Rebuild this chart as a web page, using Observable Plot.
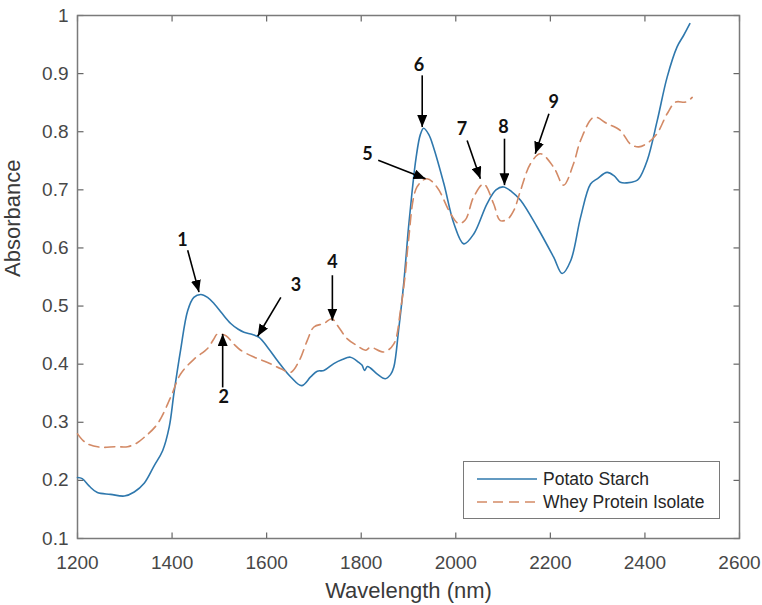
<!DOCTYPE html>
<html><head><meta charset="utf-8">
<script src="https://cdn.jsdelivr.net/npm/d3@7"></script>
<script src="https://cdn.jsdelivr.net/npm/@observablehq/plot@0.6"></script>
<style>
body{margin:0;background:#fff;}
#wrap{position:relative;width:762px;height:605px;}
.legend{position:absolute;left:463px;top:461px;width:257px;height:58px;box-sizing:border-box;border:1.5px solid #7a7a7a;background:#fff;font-family:"Liberation Sans",Arial,sans-serif;font-size:17.5px;color:#262626;}
.legend .row{position:absolute;left:0;height:20px;width:100%;}
.legend svg{position:absolute;left:12px;top:0;}
.legend span{position:absolute;left:79px;top:0;line-height:20px;white-space:nowrap;}
</style></head>
<body><div id="wrap"></div>
<script>
// ---- data ----
const xTicks = [1200, 1400, 1600, 1800, 2000, 2200, 2400, 2600];
const yTicks = [0.1, 0.2, 0.3, 0.4, 0.5, 0.6, 0.7, 0.8, 0.9, 1];
const yTickLabels = ["0.1","0.2","0.3","0.4","0.5","0.6","0.7","0.8","0.9","1"];
const xLabel = "Wavelength (nm)";
const yLabel = "Absorbance";
const seriesNames = ["Potato Starch", "Whey Protein Isolate"];

const potatoWavelength = [1200,1210,1225,1242,1270,1299,1320,1341,1362,1380,1394,1404,1418,1433,1446,1461,1475,1489,1506,1524,1540,1552,1570,1584,1603,1623,1651,1674,1693,1707,1721,1742,1760,1777,1795,1802,1807,1813,1820,1834,1851,1862,1869,1879,1890,1900,1908,1916,1925,1932,1943,1953,1975,1996,2017,2038,2066,2085,2101,2118,2137,2172,2207,2225,2243,2264,2285,2299,2320,2335,2348,2362,2380,2387,2405,2426,2447,2468,2482,2495];
const potatoAbsorbance = [0.205,0.203,0.19,0.179,0.176,0.173,0.18,0.195,0.225,0.251,0.292,0.35,0.424,0.492,0.515,0.52,0.515,0.504,0.487,0.47,0.46,0.455,0.451,0.446,0.428,0.406,0.378,0.363,0.378,0.388,0.389,0.401,0.408,0.412,0.403,0.398,0.389,0.396,0.393,0.383,0.375,0.382,0.395,0.458,0.54,0.635,0.7,0.755,0.795,0.806,0.795,0.773,0.71,0.642,0.607,0.624,0.676,0.7,0.705,0.697,0.682,0.636,0.584,0.556,0.578,0.653,0.71,0.719,0.73,0.724,0.713,0.712,0.715,0.719,0.751,0.819,0.894,0.946,0.966,0.986];

const wheyWavelength = [1200,1210,1221,1249,1280,1306,1325,1341,1369,1397,1418,1447,1475,1488,1496,1514,1530,1545,1574,1602,1630,1651,1669,1686,1700,1721,1738,1752,1770,1791,1809,1820,1848,1869,1883,1894,1900,1918,1939,1960,1989,2006,2020,2038,2059,2080,2094,2110,2123,2137,2158,2179,2207,2228,2249,2264,2292,2320,2348,2369,2387,2408,2426,2447,2465,2486,2500];
const wheyAbsorbance = [0.28,0.27,0.263,0.257,0.258,0.258,0.264,0.274,0.297,0.343,0.383,0.409,0.427,0.443,0.452,0.449,0.435,0.424,0.412,0.403,0.392,0.386,0.406,0.441,0.464,0.47,0.478,0.464,0.444,0.432,0.424,0.429,0.421,0.435,0.492,0.561,0.613,0.705,0.719,0.705,0.659,0.642,0.648,0.688,0.71,0.676,0.647,0.65,0.665,0.699,0.745,0.762,0.739,0.708,0.745,0.785,0.825,0.814,0.802,0.779,0.774,0.782,0.797,0.831,0.851,0.851,0.859];

const peakLabels = ["1","2","3","4","5","6","7","8","9"];
const labelX = [1422,1509,1662,1739,1813,1922,2013,2101,2207];
const labelY = [0.613,0.343,0.535,0.576,0.762,0.914,0.805,0.808,0.851];
const arrowX1 = [1433,1507,1630,1739,1836,1929,2024,2103,2197];
const arrowY1 = [0.596,0.360,0.515,0.553,0.751,0.897,0.785,0.788,0.831];
const arrowX2 = [1457,1507,1581,1739,1936,1929,2052,2103,2168];
const arrowY2 = [0.524,0.452,0.448,0.475,0.719,0.808,0.719,0.708,0.762];

// ---- build ----
const potato = potatoWavelength.map((w, i) => ({w, a: potatoAbsorbance[i]}));
const whey = wheyWavelength.map((w, i) => ({w, a: wheyAbsorbance[i]}));
const notes = peakLabels.map((t, i) => ({t, lx: labelX[i], ly: labelY[i], x1: arrowX1[i], y1: arrowY1[i], x2: arrowX2[i], y2: arrowY2[i]}));

const xDomain = [xTicks[0], xTicks[xTicks.length - 1]];
const yDomain = [yTicks[0], yTicks[yTicks.length - 1]];

const blue = "#2f78ad";
const orange = "#d38a66";
const axisGray = "#666";
const frameGray = "#7a7a7a";
const textGray = "#474747";
const tickLen = 6;

// tick-mark symbols (short line segments pointing into the axes box)
const tickSym = (dx, dy) => ({draw(ctx) { ctx.moveTo(0, 0); ctx.lineTo(dx * tickLen, dy * tickLen); }});

function arrowHead(color, context) {
  const m = d3.create("svg:marker")
    .attr("viewBox", "0 -5 12 10").attr("refX", 12).attr("refY", 0)
    .attr("markerWidth", 12).attr("markerHeight", 10)
    .attr("markerUnits", "userSpaceOnUse").attr("orient", "auto");
  m.append("path").attr("d", "M0,-5L12,0L0,5Z").attr("fill", "black").attr("stroke", "none");
  return m.node();
}

const chart = Plot.plot({
  width: 762, height: 605,
  marginLeft: 77, marginRight: 23, marginTop: 15, marginBottom: 67,
  style: {fontFamily: '"Liberation Sans", Arial, sans-serif', background: "white"},
  x: {domain: xDomain},
  y: {domain: yDomain},
  marks: [
    Plot.axisX({ticks: xTicks, anchor: "bottom", tickSize: 0, tickPadding: 17, tickFormat: d => String(d), fontSize: 19, color: textGray, label: null}),
    Plot.axisY({ticks: yTicks, anchor: "left", tickSize: 0, tickPadding: 9, tickFormat: (d) => yTickLabels[yTicks.indexOf(d)], fontSize: 19, color: textGray, label: null}),
    // inward ticks on all four sides (MATLAB box style)
    Plot.dot(xTicks, {x: d => d, y: yDomain[0], symbol: tickSym(0, -1), r: 3, fill: "none", stroke: axisGray, strokeWidth: 1.2}),
    Plot.dot(xTicks, {x: d => d, y: yDomain[1], symbol: tickSym(0, 1), r: 3, fill: "none", stroke: axisGray, strokeWidth: 1.2}),
    Plot.dot(yTicks, {x: xDomain[0], y: d => d, symbol: tickSym(1, 0), r: 3, fill: "none", stroke: axisGray, strokeWidth: 1.2}),
    Plot.dot(yTicks, {x: xDomain[1], y: d => d, symbol: tickSym(-1, 0), r: 3, fill: "none", stroke: axisGray, strokeWidth: 1.2}),
    Plot.frame({stroke: frameGray, strokeWidth: 1.5}),
    Plot.text([xLabel], {text: d => d, frameAnchor: "bottom", dy: 59, fontSize: 22, fill: "#3a3a3a"}),
    Plot.text([yLabel], {text: d => d, frameAnchor: "left", dx: -65, rotate: -90, fontSize: 22, fill: "#3a3a3a"}),
    Plot.line(potato, {x: "w", y: "a", stroke: blue, strokeWidth: 1.6, curve: "catmull-rom"}),
    Plot.line(whey, {x: "w", y: "a", stroke: orange, strokeWidth: 1.6, strokeDasharray: "10,6", curve: "catmull-rom"}),
    Plot.link(notes, {x1: "x1", y1: "y1", x2: "x2", y2: "y2", stroke: "black", strokeWidth: 1.6, markerEnd: arrowHead}),
    Plot.text(notes, {x: "lx", y: "ly", text: "t", fontSize: 18, fontWeight: "bold", fontFamily: "Lato", fill: "#111"})
  ]
});

const wrap = document.getElementById("wrap");
wrap.appendChild(chart);

// legend inside the axes (lower right)
const legend = document.createElement("div");
legend.className = "legend";
const styles = [{stroke: blue, dash: null}, {stroke: orange, dash: "10,6"}];
seriesNames.forEach((name, i) => {
  const row = document.createElement("div");
  row.className = "row";
  row.style.top = (i === 0 ? 7 : 30) + "px";
  row.innerHTML = `<svg width="62" height="20"><line x1="1" x2="61" y1="10" y2="10" stroke="${styles[i].stroke}" stroke-width="1.6" ${styles[i].dash ? `stroke-dasharray="${styles[i].dash}"` : ""}/></svg><span>${name}</span>`;
  legend.appendChild(row);
});
wrap.appendChild(legend);
</script>
</body></html>
